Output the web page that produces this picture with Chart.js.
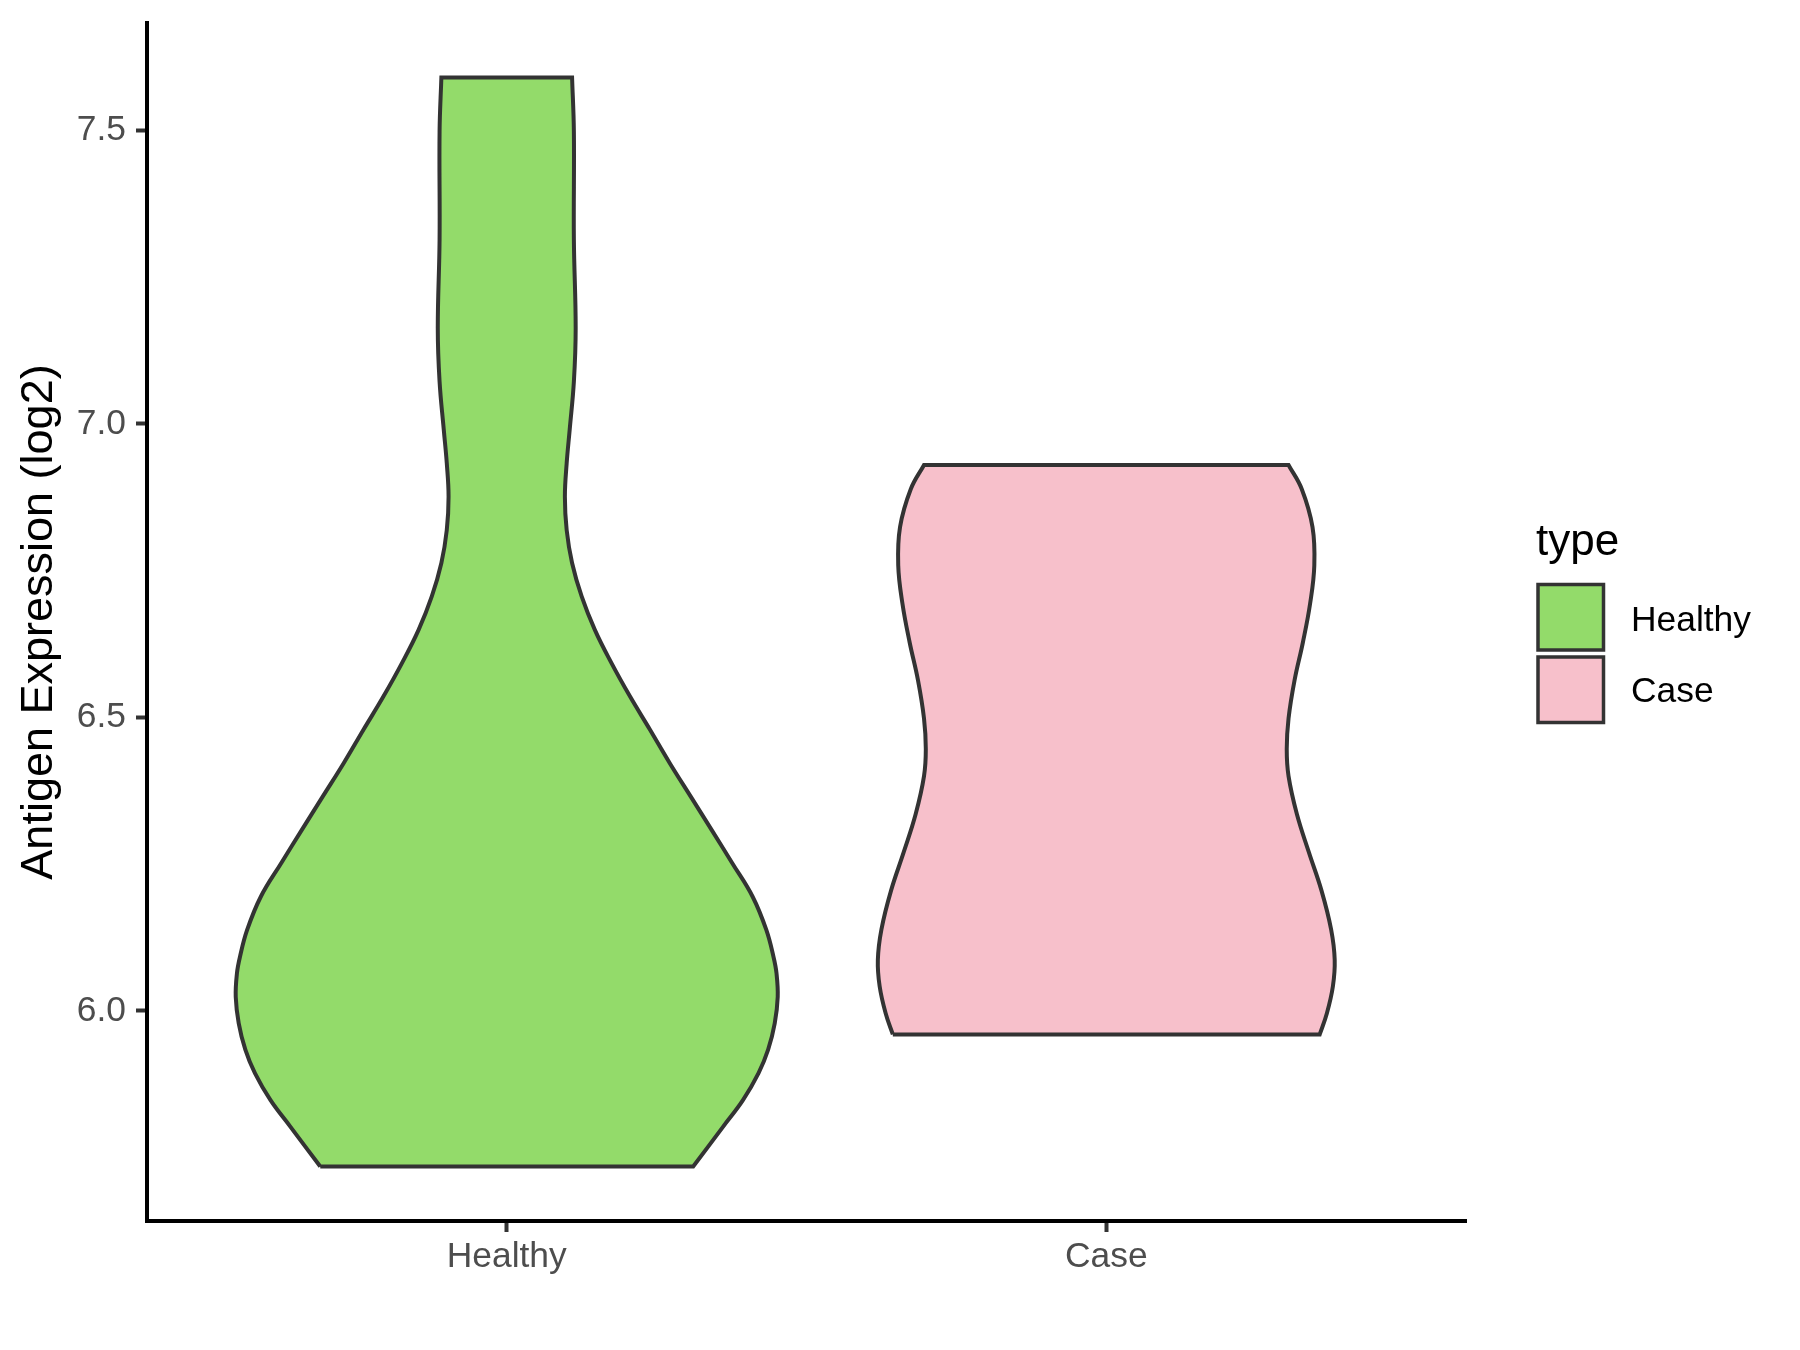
<!DOCTYPE html>
<html lang="en">
  <head>
    <meta charset="UTF-8" />
    <title>Antigen Expression - violin</title>
    <script src="https://cdn.jsdelivr.net/npm/chart.js"></script>
    <style>
      html, body { margin: 0; padding: 0; background: #ffffff; }
      .chart-box { width: 1800px; height: 1350px; position: relative; }
    </style>
  </head>
  <body>
    <div class="chart-box">
      <canvas id="violinChart"></canvas>
    </div>

    <script>
      // groups along the x axis
      const categories = ["Healthy", "Case"];
      const fillColors = ["#93DB6A", "#F7C0CB"];
      const yTicks = [6.0, 6.5, 7.0, 7.5];

      // violin outlines: y value and half width (in category units)
      const healthyY = [5.735, 5.803, 5.848, 5.894, 5.934, 5.979, 6.024, 6.064, 6.092, 6.138, 6.195, 6.252,
        6.308, 6.365, 6.422, 6.479, 6.535, 6.592, 6.649, 6.706, 6.763, 6.819, 6.876, 6.933, 6.99, 7.072, 7.163,
        7.314, 7.498, 7.59];
      const healthyHalf = [0.311, 0.361, 0.394, 0.42, 0.436, 0.447, 0.452, 0.45, 0.445, 0.433, 0.41, 0.376,
        0.342, 0.307, 0.272, 0.239, 0.206, 0.175, 0.147, 0.125, 0.109, 0.1, 0.097, 0.1, 0.105, 0.112, 0.115,
        0.112, 0.112, 0.109];

      const caseY = [5.96, 5.996, 6.042, 6.087, 6.139, 6.205, 6.27, 6.335, 6.4, 6.446, 6.498, 6.563, 6.628, 6.694,
        6.759, 6.824, 6.889, 6.93];
      const caseHalf = [0.356, 0.368, 0.378, 0.381, 0.375, 0.359, 0.338, 0.318, 0.304, 0.301, 0.304, 0.314, 0.328,
        0.34, 0.347, 0.344, 0.326, 0.304];

      // closed outline: up the left side, down the right side.
      // corner points are doubled so the spline keeps the flat ends sharp
      function outline(pos, ys, hw) {
        const n = ys.length;
        const pts = [];
        const add = (p, twice) => {
          pts.push(p);
          if (twice) pts.push({ x: p.x, y: p.y });
        };
        ys.forEach((y, i) => add({ x: pos - hw[i], y: y }, i === 0 || i === n - 1));
        for (let i = n - 1; i >= 0; i--) add({ x: pos + hw[i], y: ys[i] }, i === 0 || i === n - 1);
        add({ x: pos - hw[0], y: ys[0] }, true);
        return pts;
      }

      // ggplot style 5% expansion of the data range
      const lo = Math.min(healthyY[0], caseY[0]);
      const hi = Math.max(healthyY[healthyY.length - 1], caseY[caseY.length - 1]);
      const pad = (hi - lo) * 0.05;

      const FONT = "'Liberation Sans', Arial, Helvetica, sans-serif";
      const OUTLINE = "#333333";

      const violinSet = (i, ys, hw) => ({
        label: categories[i],
        data: outline(i + 1, ys, hw),
        showLine: true,
        tension: 0.4,
        pointRadius: 0,
        pointHoverRadius: 0,
        borderColor: OUTLINE,
        borderWidth: 4,
        borderJoinStyle: "miter",
        backgroundColor: fillColors[i],
        fill: "shape",
      });

      // ggplot-like legend on the right
      const legendPlugin = {
        id: "typeLegend",
        afterDraw(chart) {
          const ctx = chart.ctx;
          ctx.save();
          ctx.fillStyle = "#000000";
          ctx.textBaseline = "alphabetic";
          ctx.textAlign = "left";
          ctx.font = "44px " + FONT;
          ctx.fillText("type", 1536, 555);
          const keyTop = [584.5, 657];
          const baseLine = [630.7, 702.3];
          categories.forEach((name, i) => {
            ctx.fillStyle = fillColors[i];
            ctx.fillRect(1538, keyTop[i], 65.5, 65.5);
            ctx.strokeStyle = OUTLINE;
            ctx.lineWidth = 3.5;
            ctx.strokeRect(1538, keyTop[i], 65.5, 65.5);
            ctx.fillStyle = "#000000";
            ctx.font = "35.4px " + FONT;
            ctx.fillText(name, 1631, baseLine[i]);
          });
          ctx.restore();
        },
      };

      const ctx = document.getElementById("violinChart").getContext("2d");
      new Chart(ctx, {
        type: "scatter",
        data: {
          datasets: [violinSet(0, healthyY, healthyHalf), violinSet(1, caseY, caseHalf)],
        },
        options: {
          responsive: true,
          maintainAspectRatio: false,
          devicePixelRatio: 1,
          animation: false,
          events: [],
          layout: { padding: { top: 23, right: 334, bottom: 0, left: 0 } },
          plugins: {
            legend: { display: false },
            tooltip: { enabled: false },
          },
          scales: {
            x: {
              type: "linear",
              min: 0.4,
              max: 2.6,
              afterBuildTicks: (scale) => {
                scale.ticks = categories.map((c, i) => ({ value: i + 1 }));
              },
              afterFit: (scale) => {
                scale.height = 129;
                scale.paddingLeft = 0;
                scale.paddingRight = 0;
              },
              ticks: {
                callback: (v) => categories[v - 1],
                color: "#4D4D4D",
                font: { family: FONT, size: 35.4 },
                padding: 4,
                maxRotation: 0,
              },
              grid: {
                drawOnChartArea: false,
                drawTicks: true,
                tickLength: 11,
                tickWidth: 4,
                tickColor: OUTLINE,
              },
              border: { display: true, color: "#000000", width: 4 },
            },
            y: {
              min: lo - pad,
              max: hi + pad,
              afterBuildTicks: (scale) => {
                scale.ticks = yTicks.map((v) => ({ value: v }));
              },
              afterFit: (scale) => {
                scale.width = 147;
                scale.paddingTop = 0;
                scale.paddingBottom = 0;
              },
              ticks: {
                callback: (v) => v.toFixed(1),
                color: "#4D4D4D",
                font: { family: FONT, size: 35.4 },
                padding: 10,
              },
              grid: {
                drawOnChartArea: false,
                drawTicks: true,
                tickLength: 11,
                tickWidth: 4,
                tickColor: OUTLINE,
              },
              border: { display: true, color: "#000000", width: 4 },
              title: {
                display: true,
                text: "Antigen Expression (log2)",
                color: "#000000",
                font: { family: FONT, size: 45, lineHeight: 1.2 },
                padding: { top: 13, bottom: 0 },
              },
            },
          },
        },
        plugins: [legendPlugin],
      });
    </script>
  </body>
</html>
